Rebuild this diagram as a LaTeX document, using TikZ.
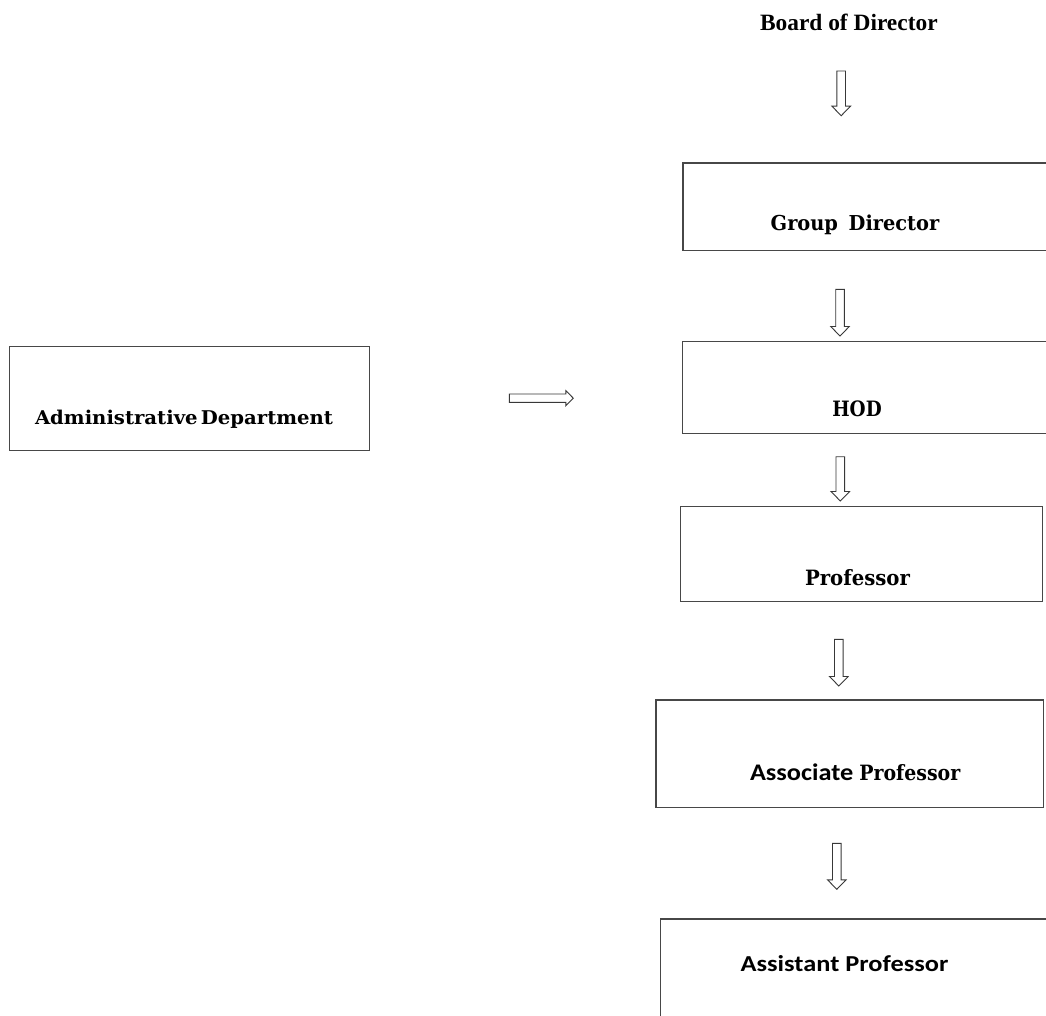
\documentclass[tikz,border=0pt]{standalone}
\usepackage{fontspec}
\usepackage{graphicx}
\usetikzlibrary{calc}
\newfontfamily\cambf{DejaVu Serif}
\newfontfamily\calibf{Carlito}
\newfontfamily\timesf{Liberation Serif}
\newcommand\fitw[3]{\resizebox{#1pt}{#2pt}{#3}}
\newcommand\varrow[2]{\draw[blockarr] ($(#1)+(-4.3,0)$) -- ($(#1)+(4.3,0)$) -- ($(#2)+(4.3,-9.5)$) -- ($(#2)+(9.3,-9.5)$) -- (#2) -- ($(#2)+(-9.3,-9.5)$) -- ($(#2)+(-4.3,-9.5)$) -- cycle;}
\newcommand\harrow[2]{\draw[blockarr] ($(#1)+(0,-4.2)$) -- ($(#2)+(-7.4,-4.2)$) -- ($(#2)+(-7.4,-7.5)$) -- (#2) -- ($(#2)+(-7.4,7.5)$) -- ($(#2)+(-7.4,4.2)$) -- ($(#1)+(0,4.2)$) -- cycle;}
\begin{document}
\begin{tikzpicture}[x=1pt,y=-1pt,
  boxnode/.style={draw=black!72,line width=1.3pt,rectangle,inner sep=0pt,outer sep=0pt,anchor=north west},
  txt/.style={inner sep=0pt,outer sep=0pt,anchor=base west,text=black},
  blockarr/.style={draw=black!78,line width=0.9pt,fill=white,line join=miter}]
\useasboundingbox (0,0) rectangle (1046,1016);
\clip (0,0) rectangle (1046,1016);
\fill[white] (0,0) rectangle (1046,1016);

% boxes
\node[boxnode,minimum width=377pt,minimum height=87.7pt] (gd) at (683,163) {};
\node[boxnode,minimum width=377pt,minimum height=91.6pt] (hod) at (682.7,341.7) {};
\node[boxnode,minimum width=361.6pt,minimum height=95pt] (prof) at (680.7,506.7) {};
\node[boxnode,minimum width=387.3pt,minimum height=107.7pt] (assoc) at (656,700) {};
\node[boxnode,minimum width=400pt,minimum height=120pt] (asst) at (660.7,919) {};
\node[boxnode,minimum width=359.8pt,minimum height=104pt] (admin) at (9.5,346.7) {};

% texts
\node[txt] (bod) at (760,30.7) {\fontsize{23.4pt}{28pt}\selectfont\timesf\bfseries Board of Director};
\node[txt] (gdt) at (770.7,230.7) {\fitw{168.6}{15.6}{\cambf\bfseries Group\hspace{0.55em}Director}};
\node[txt] (hodt) at (832.3,416.7) {\fitw{49.4}{15.7}{\cambf\bfseries HOD}};
\node[txt] (proft) at (805,585) {\fitw{105}{16}{\cambf\bfseries Professor}};
\node[txt] (assoct) at (750,780) {\fitw{103.3}{16.7}{\calibf\bfseries Associate}\hspace{6pt}\fitw{101}{16}{\cambf\bfseries Professor}};
\node[txt] (asstt) at (740.7,971.7) {\fitw{207.6}{16}{\calibf\bfseries Assistant Professor}};
\node[txt] (admint) at (35,424) {\fitw{298}{14.4}{\cambf\bfseries Administrative\,Department}};

% arrows
\coordinate (a1s) at (841.2,71);   \coordinate (a1e) at (841.2,115.7);
\coordinate (a2s) at (840,289.3);  \coordinate (a2e) at (840,336);
\coordinate (a3s) at (840.3,456.7);\coordinate (a3e) at (840.3,501);
\coordinate (a4s) at (838.8,639.3);\coordinate (a4e) at (838.8,686);
\coordinate (a5s) at (836.8,843.3);\coordinate (a5e) at (836.8,889.3);
\coordinate (h1s) at (509.3,398.2);\coordinate (h1e) at (573.3,398.2);
\varrow{a1s}{a1e}
\varrow{a2s}{a2e}
\varrow{a3s}{a3e}
\varrow{a4s}{a4e}
\varrow{a5s}{a5e}
\harrow{h1s}{h1e}
\end{tikzpicture}
\end{document}
